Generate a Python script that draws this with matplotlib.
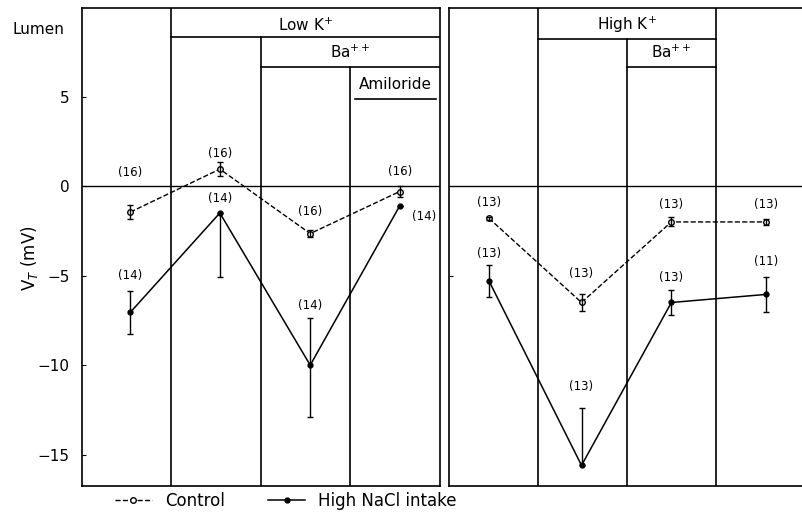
import matplotlib
matplotlib.use('Agg')
from matplotlib import pyplot as plt
from matplotlib.lines import Line2D

# transepithelial voltage, mV (mean +- SE), four periods per panel
low_k_control = [-1.45, 0.95, -2.65, -0.3]
low_k_control_err = [0.4, 0.4, 0.2, 0.3]
low_k_nacl = [-7.05, -1.5, -10.0, -1.1]
low_k_nacl_err_lo = [1.2, 3.55, 2.9, 0.0]
low_k_nacl_err_hi = [1.2, 0.0, 2.65, 0.0]
low_k_control_n = ['(16)', '(16)', '(16)', '(16)']
low_k_nacl_n = ['(14)', '(14)', '(14)', '(14)']

high_k_control = [-1.8, -6.5, -2.0, -2.0]
high_k_control_err = [0.1, 0.5, 0.25, 0.15]
high_k_nacl = [-5.3, -15.6, -6.5, -6.05]
high_k_nacl_err_lo = [0.9, 0.0, 0.7, 1.0]
high_k_nacl_err_hi = [0.9, 3.2, 0.7, 1.0]
high_k_control_n = ['(13)', '(13)', '(13)', '(13)']
high_k_nacl_n = ['(13)', '(13)', '(13)', '(11)']

y_ticks = [5, 0, -5, -10, -15]

YLIM = (-16.75, 9.95)

fig = plt.figure(figsize=(8.03, 5.17), dpi=100)
ax1 = fig.add_axes([82 / 803, 31 / 517, 358 / 803, 478 / 517])
ax2 = fig.add_axes([449 / 803, 31 / 517, 354 / 803, 478 / 517])

for ax in (ax1, ax2):
    ax.set_ylim(*YLIM)
    ax.set_xticks([])
    for s in ax.spines.values():
        s.set_linewidth(1.2)
    ax.axhline(0, color='black', lw=1)

ax1.set_xlim(0, 4)
ax2.set_xlim(0, 3.98)
ax2.spines['right'].set_visible(False)

ax1.set_yticks(y_ticks)
ax1.set_yticklabels(['5', '0', '\u22125', '\u221210', '\u221215'], fontsize=11)
ax1.tick_params(axis='y', direction='in', length=3, pad=9)
ax2.set_yticks([-5])
ax2.set_yticklabels([])
ax2.tick_params(axis='y', direction='in', length=3)

# column dividers and treatment boxes (left panel)
top = YLIM[1]
ax1.plot([1, 1], [YLIM[0], top], color='black', lw=1.2)
ax1.plot([2, 2], [YLIM[0], 8.32], color='black', lw=1.2)
ax1.plot([3, 3], [YLIM[0], 6.65], color='black', lw=1.2)
ax1.plot([1, 4], [8.32, 8.32], color='black', lw=1.2)
ax1.plot([2, 4], [6.65, 6.65], color='black', lw=1.2)
ax1.plot([3.05, 3.95], [4.86, 4.86], color='black', lw=1.2)
ax1.text(2.5, 9.0, 'Low K$^{+}$', ha='center', va='center', fontsize=11)
ax1.text(3.0, 7.45, 'Ba$^{++}$', ha='center', va='center', fontsize=11)
ax1.text(3.5, 5.7, 'Amiloride', ha='center', va='center', fontsize=11)

# right panel
ax2.plot([1, 1], [YLIM[0], top], color='black', lw=1.2)
ax2.plot([2, 2], [YLIM[0], 8.2], color='black', lw=1.2)
ax2.plot([3, 3], [YLIM[0], top], color='black', lw=1.2)
ax2.plot([1, 3], [8.2, 8.2], color='black', lw=1.2)
ax2.plot([2, 3], [6.65, 6.65], color='black', lw=1.2)
ax2.text(2.0, 9.0, 'High K$^{+}$', ha='center', va='center', fontsize=11)
ax2.text(2.5, 7.45, 'Ba$^{++}$', ha='center', va='center', fontsize=11)

x_left = [0.54, 1.54, 2.55, 3.55]
x_right = [0.45, 1.49, 2.5, 3.56]

ctrl_style = dict(color='black', ls='--', lw=1, marker='o', ms=4,
                  mfc='white', mec='black', mew=1)
nacl_style = dict(color='black', ls='-', lw=1.1, marker='o', ms=3.5,
                  mfc='black', mec='black')
err_style = dict(fmt='none', ecolor='black', elinewidth=1, capsize=2.5)

ax1.plot(x_left, low_k_control, **ctrl_style)
ax1.errorbar(x_left, low_k_control, yerr=low_k_control_err, **err_style)
ax1.plot(x_left, low_k_nacl, **nacl_style)
ax1.errorbar(x_left, low_k_nacl, yerr=[low_k_nacl_err_lo, low_k_nacl_err_hi], **err_style)

ax2.plot(x_right, high_k_control, **ctrl_style)
ax2.errorbar(x_right, high_k_control, yerr=high_k_control_err, **err_style)
ax2.plot(x_right, high_k_nacl, **nacl_style)
ax2.errorbar(x_right, high_k_nacl, yerr=[high_k_nacl_err_lo, high_k_nacl_err_hi], **err_style)

# n labels, placed above each point
lab_kw = dict(ha='center', va='center', fontsize=8.5)
ctrl_off_left = [2.2, 0.9, 1.25, 1.1]
nacl_off_left = [2.05, 0.8, 3.35, -0.6]
for x, y, n, o in zip(x_left, low_k_control, low_k_control_n, ctrl_off_left):
    ax1.text(x, y + o, n, **lab_kw)
for i, (x, y, n, o) in enumerate(zip(x_left, low_k_nacl, low_k_nacl_n, nacl_off_left)):
    ax1.text(x + (0.27 if i == 3 else 0), y + o, n, **lab_kw)

ctrl_off_right = [0.9, 1.6, 1.0, 1.0]
nacl_off_right = [1.55, 4.4, 1.4, 1.85]
for x, y, n, o in zip(x_right, high_k_control, high_k_control_n, ctrl_off_right):
    ax2.text(x, y + o, n, **lab_kw)
for x, y, n, o in zip(x_right, high_k_nacl, high_k_nacl_n, nacl_off_right):
    ax2.text(x, y + o, n, **lab_kw)

fig.text(38 / 803, 1 - 30 / 517, 'Lumen', ha='center', va='center', fontsize=11)
fig.text(30 / 803, 1 - 258 / 517, 'V$_T$ (mV)', ha='center', va='center',
         rotation=90, fontsize=12)

handles = [Line2D([], [], **ctrl_style), Line2D([], [], **nacl_style)]
fig.legend(handles, ['Control', 'High NaCl intake'], loc='lower left',
           bbox_to_anchor=(100 / 803, -0.015), ncol=2, frameon=False,
           fontsize=12, handlelength=2.2, columnspacing=2.6)

fig.savefig('out.png', dpi=100)
